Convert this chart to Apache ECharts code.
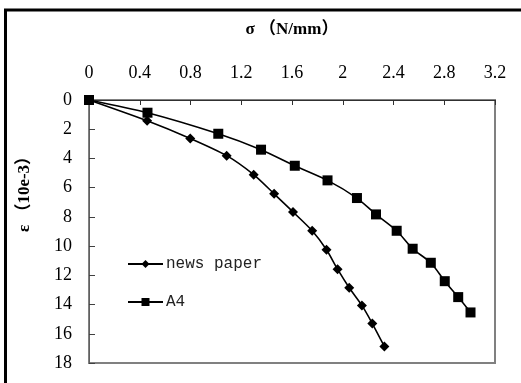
<!DOCTYPE html>
<html><head><meta charset="utf-8">
<script src="https://cdn.jsdelivr.net/npm/echarts@6/dist/echarts.min.js"></script>
<style>html,body{margin:0;padding:0;background:#fff}#c{width:521px;height:383px}</style>
</head><body><div id="c"></div>
<script>
const xTicks = [0, 0.4, 0.8, 1.2, 1.6, 2, 2.4, 2.8, 3.2];
const yTicks = [0, 2, 4, 6, 8, 10, 12, 14, 16, 18];
const newsX = [0, 0.458, 0.798, 1.085, 1.298, 1.459, 1.608, 1.759, 1.872, 1.959, 2.051, 2.151, 2.233, 2.328];
const newsY = [0, 1.42, 2.63, 3.81, 5.11, 6.42, 7.66, 8.95, 10.25, 11.58, 12.85, 14.06, 15.3, 16.87];
const a4X = [0, 0.461, 1.019, 1.356, 1.622, 1.880, 2.112, 2.262, 2.425, 2.551, 2.694, 2.804, 2.910, 3.007];
const a4Y = [0, 0.87, 2.31, 3.40, 4.50, 5.50, 6.71, 7.83, 8.95, 10.18, 11.14, 12.40, 13.49, 14.54];

const chart = echarts.init(document.getElementById('c'), null, {renderer: 'canvas'});
const labelFont = {fontFamily: 'Liberation Serif', fontSize: 18, color: '#000'};
chart.setOption({
  animation: false,
  backgroundColor: '#fff',
  grid: {left: 89, top: 100, right: 26, bottom: 20, show: true, borderColor: '#808080', borderWidth: 2},
  xAxis: {
    type: 'value', position: 'top', min: xTicks[0], max: xTicks[xTicks.length - 1], interval: 0.4,
    name: 'σ （N/mm）', nameLocation: 'middle', nameGap: 62,
    nameTextStyle: {fontFamily: '"Liberation Serif", "Noto Sans CJK SC"', fontSize: 17, fontWeight: 'bold', color: '#000'},
    axisLine: {show: true, lineStyle: {color: '#303030', width: 1}},
    axisTick: {show: true, inside: true, length: 5, lineStyle: {color: '#303030'}},
    splitLine: {show: false},
    axisLabel: Object.assign({margin: 18, formatter: v => String(+v.toFixed(1))}, labelFont)
  },
  yAxis: {
    type: 'value', inverse: true, min: yTicks[0], max: yTicks[yTicks.length - 1], interval: 2,
    axisLine: {show: true, lineStyle: {color: '#606060', width: 1}},
    axisTick: {show: true, inside: true, length: 6, lineStyle: {color: '#404040'}},
    splitLine: {show: false},
    axisLabel: Object.assign({margin: 17}, labelFont)
  },
  legend: {
    orient: 'vertical', left: 122, top: 251, itemWidth: 35, itemHeight: 10, itemGap: 22,
    textStyle: {fontFamily: 'Liberation Mono', fontSize: 16, color: '#222', padding: [0, 0, 0, -2]},
    data: ['news paper', 'A4']
  },
  graphic: [
    {type: 'rect', shape: {x: 5.5, y: 10, width: 560, height: 420}, style: {fill: 'none', stroke: '#000', lineWidth: 3}, silent: true},
    {type: 'text', x: 25, y: 190, rotation: Math.PI / 2,
     style: {text: 'ε （10e-3）', font: 'bold 17px "Liberation Serif", "Noto Sans CJK SC"', fill: '#000', align: 'center', verticalAlign: 'middle'}}
  ],
  series: [
    {name: 'news paper', type: 'line', smooth: 0.25, symbol: 'diamond', symbolSize: 10,
     itemStyle: {color: '#000'}, lineStyle: {color: '#000', width: 1.6},
     data: newsX.map((x, i) => [x, newsY[i]])},
    {name: 'A4', type: 'line', smooth: 0.25, symbol: 'rect', symbolSize: 10,
     itemStyle: {color: '#000'}, lineStyle: {color: '#000', width: 1.6},
     data: a4X.map((x, i) => [x, a4Y[i]])}
  ]
});
</script></body></html>
